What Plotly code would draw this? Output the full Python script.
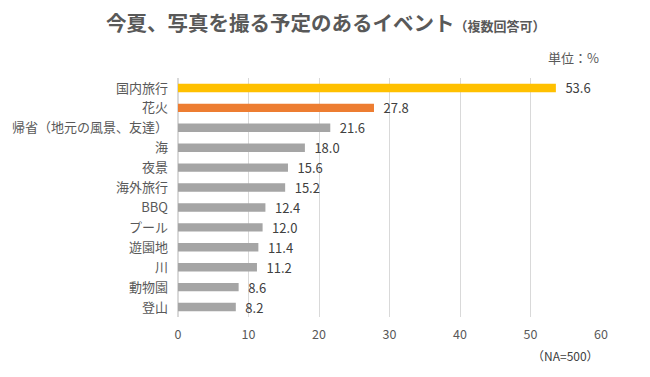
import plotly.graph_objects as go

categories = ["国内旅行", "花火", "帰省（地元の風景、友達）", "海", "夜景", "海外旅行",
              "BBQ", "プール", "遊園地", "川", "動物園", "登山"]
values = [53.6, 27.8, 21.6, 18.0, 15.6, 15.2, 12.4, 12.0, 11.4, 11.2, 8.6, 8.2]
colors = ["#FFC000", "#ED7D31"] + ["#A5A5A5"] * 10
x_ticks = [0, 10, 20, 30, 40, 50, 60]

FONT = "Noto Sans CJK JP"

# page has ~8px body margin; compensate
OFF = 8
W, H = 650 - OFF, 377 - OFF
L, T = 178 - OFF, 78 - OFF
R = 650 - 601
B = 377 - 317
plot_h = H - T - B

fig = go.Figure(go.Bar(
    y=categories, x=values, orientation="h",
    marker=dict(color=colors, line=dict(width=0)),
    text=[f"\u2002{v:.1f}" for v in values], textposition="outside",
    constraintext="none",
    textfont=dict(family=FONT, size=13, color="#404040"),
    cliponaxis=False, width=0.42,
))

fig.update_layout(
    width=W, height=H,
    margin=dict(l=L, r=R, t=T, b=B, autoexpand=False),
    paper_bgcolor="white", plot_bgcolor="white",
    font=dict(family=FONT, color="#595959", size=12),
    showlegend=False,
    xaxis=dict(range=[0, 60], tickvals=x_ticks, showgrid=True, gridcolor="#D9D9D9",
               gridwidth=1, zeroline=True, zerolinecolor="#D9D9D9", showline=False,
               ticks="", tickfont=dict(size=12.5, color="#595959"), ticklabelstandoff=8),
    yaxis=dict(categoryorder="array", categoryarray=categories[::-1], showgrid=False,
               ticks="", tickfont=dict(size=13, color="#595959"), ticklabelstandoff=9,
               showline=False, zeroline=False),
    annotations=[
        dict(text="<b>今夏、写真を撮る予定のあるイベント</b><span style='font-size:13px'><b>（複数回答可）</b></span>",
             x=((326 - OFF) - L) / (W - L - R),
             xref="paper", y=1 + (T - (22 - OFF)) / plot_h, yref="paper", showarrow=False,
             font=dict(size=20.5, color="#595959", family=FONT), xanchor="center", yanchor="middle"),
        dict(text="単位：%", x=1, xref="paper", y=1 + (T - (57 - OFF)) / plot_h, yref="paper",
             showarrow=False, xanchor="right", yanchor="middle",
             font=dict(size=13, color="#595959")),
        dict(text="（NA=500）", x=1, xref="paper", y=-((355 - OFF) - (H - B)) / plot_h, yref="paper",
             showarrow=False, xanchor="right", yanchor="middle",
             font=dict(size=12, color="#404040")),
    ],
)

fig.write_html("out.html")
